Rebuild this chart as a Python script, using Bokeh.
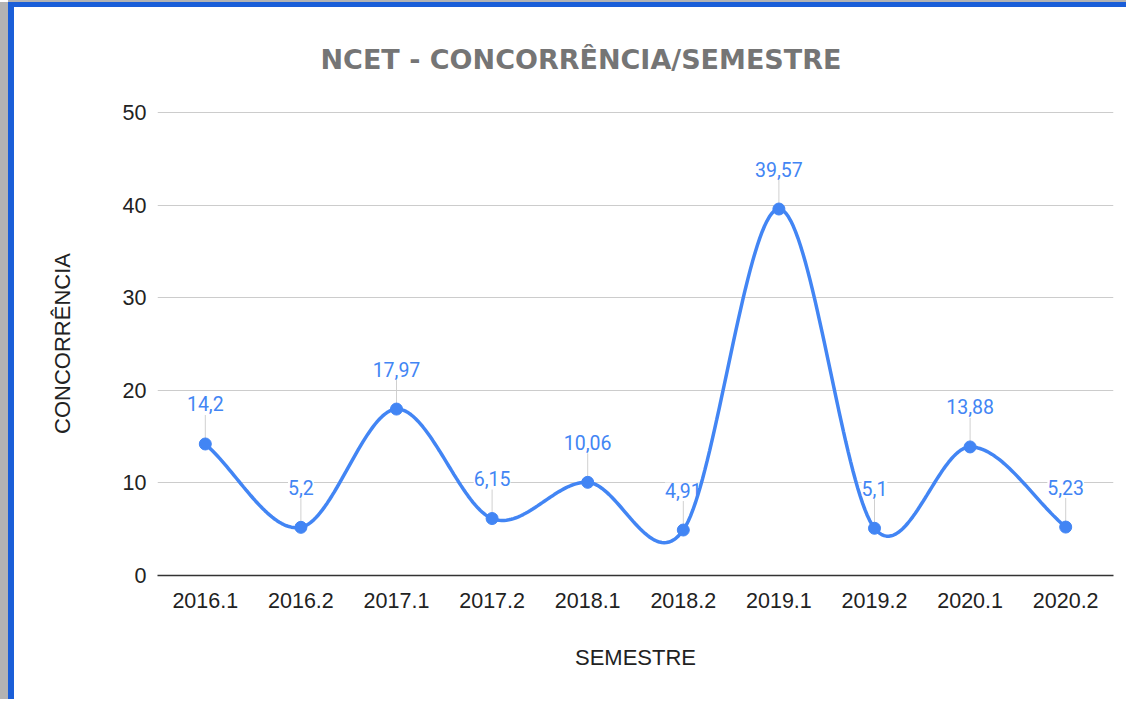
import numpy as np
from bokeh.plotting import figure
from bokeh.models import (ColumnDataSource, Range1d, FixedTicker, LabelSet, Title)
from bokeh.core.properties import value
from bokeh.embed import file_html
from bokeh.resources import INLINE

# ---- data ----
semestres = ["2016.1", "2016.2", "2017.1", "2017.2", "2018.1",
             "2018.2", "2019.1", "2019.2", "2020.1", "2020.2"]
concorrencia = [14.2, 5.2, 17.97, 6.15, 10.06, 4.91, 39.57, 5.1, 13.88, 5.23]
y_ticks = [0, 10, 20, 30, 40, 50]

title_text = "NCET - CONCORRÊNCIA/SEMESTRE"
x_title = "SEMESTRE"
y_title = "CONCORRÊNCIA"

BLUE = "#4285F4"

W, H = 1118, 697
FRAME_L, FRAME_R, FRAME_T, FRAME_B = 143, 1099, 104, 568

p = figure(width=W, height=H, output_backend="svg", toolbar_location=None,
           x_range=Range1d(-0.5, len(semestres) - 0.5),
           y_range=Range1d(0, 50.1),
           min_border_left=FRAME_L, min_border_right=W - FRAME_R,
           min_border_top=FRAME_T, min_border_bottom=H - FRAME_B)
p.outline_line_color = None
p.background_fill_color = "white"
p.border_fill_color = "white"
p.styles = {"border-left": "6px solid #1a5ed8",
            "border-top": "5px solid #1a5ed8",
            "margin": "2px 0 0 8px",
            "box-shadow": "-8px 0 0 0 #b3b3b3, 0 -2px 0 0 #b3b3b3"}

# title
t = Title(text=title_text, align="left", offset=163, vertical_align="top",
          standoff=69, text_font="DejaVu Sans", text_font_style="bold",
          text_font_size="27px", text_color="#757575")
p.add_layout(t, "above")

# axes
xi = list(range(len(semestres)))
p.xaxis.ticker = FixedTicker(ticks=xi)
p.xaxis.major_label_overrides = {i: s for i, s in zip(xi, semestres)}
p.xaxis.major_tick_line_color = None
p.xaxis.minor_tick_line_color = None
p.xaxis.axis_line_color = "#333333"
p.xaxis.axis_line_width = 1.5
p.xaxis.major_label_standoff = 11
p.xaxis.major_label_text_font = "Liberation Sans"
p.xaxis.major_label_text_font_size = "21.5px"
p.xaxis.major_label_text_color = "#222222"
p.xaxis.axis_label = x_title
p.xaxis.axis_label_text_font = "Liberation Sans"
p.xaxis.axis_label_text_font_size = "22px"
p.xaxis.axis_label_text_font_style = "normal"
p.xaxis.axis_label_text_color = "#222222"
p.xaxis.axis_label_standoff = 34

p.yaxis.ticker = FixedTicker(ticks=y_ticks)
p.yaxis.axis_line_color = None
p.yaxis.major_tick_line_color = None
p.yaxis.minor_tick_line_color = None
p.yaxis.major_label_standoff = 5
p.yaxis.major_label_text_font = "Liberation Sans"
p.yaxis.major_label_text_font_size = "21.5px"
p.yaxis.major_label_text_color = "#222222"
p.yaxis.axis_label = y_title
p.yaxis.axis_label_text_font = "Liberation Sans"
p.yaxis.axis_label_text_font_size = "22px"
p.yaxis.axis_label_text_font_style = "normal"
p.yaxis.axis_label_text_color = "#222222"
p.yaxis.axis_label_standoff = 45

p.xgrid.grid_line_color = None
p.ygrid.grid_line_color = "#cccccc"
p.ygrid.grid_line_width = 1

# smooth curve (Catmull-Rom / cubic Hermite through the data points)
y = np.array(concorrencia, dtype=float)
n = len(y)
m = np.zeros(n)
m[1:-1] = (y[2:] - y[:-2]) / 2.0
m[0] = y[1] - y[0]
m[-1] = y[-1] - y[-2]
cx, cy = [], []
for i in range(n - 1):
    tt = np.linspace(0, 1, 40, endpoint=(i == n - 2))
    h00 = 2 * tt**3 - 3 * tt**2 + 1
    h10 = tt**3 - 2 * tt**2 + tt
    h01 = -2 * tt**3 + 3 * tt**2
    h11 = tt**3 - tt**2
    cx.extend(i + tt)
    cy.extend(h00 * y[i] + h10 * m[i] + h01 * y[i + 1] + h11 * m[i + 1])

# leader lines from points to labels
px_per_unit = (FRAME_B - FRAME_T) / 50.1
lead = 29 / px_per_unit
src = ColumnDataSource(dict(x=xi, y=concorrencia,
                            y1=[v + lead for v in concorrencia],
                            txt=[str(v).replace(".", ",") for v in concorrencia]))
p.segment(x0="x", y0="y", x1="x", y1="y1", source=src,
          line_color="#d0d0d0", line_width=1, level="underlay")

labels = LabelSet(x="x", y="y", text="txt", source=src, y_offset=40,
                  text_align="center", text_baseline="middle",
                  text_font=value("Roboto"), text_font_size="19.5px", text_color=BLUE,
                  background_fill_color="white", level="underlay")
p.add_layout(labels)

p.line(cx, cy, line_color=BLUE, line_width=3.5)
p.scatter(x="x", y="y", source=src, size=12, color=BLUE)

open("out.html", "w").write(file_html(p, INLINE))
